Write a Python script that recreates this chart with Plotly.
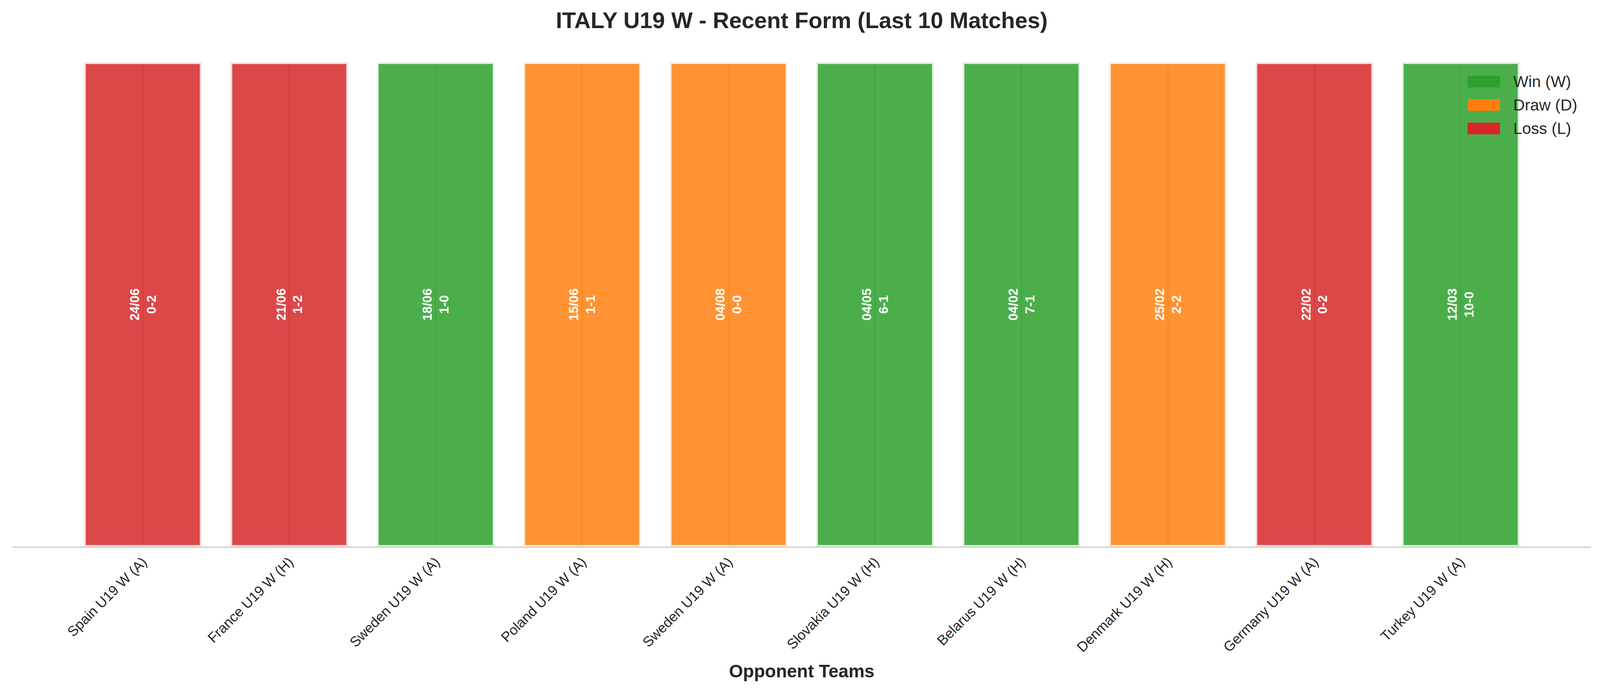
import plotly.graph_objects as go

# Last 10 matches, shown left to right as in the original chart
teams = ["Spain U19 W (A)", "France U19 W (H)", "Sweden U19 W (A)", "Poland U19 W (A)",
         "Sweden U19 W (A)", "Slovakia U19 W (H)", "Belarus U19 W (H)", "Denmark U19 W (H)",
         "Germany U19 W (A)", "Turkey U19 W (A)"]
results = ["L", "L", "W", "D", "D", "W", "W", "D", "L", "W"]
dates = ["24/06", "21/06", "18/06", "15/06", "04/08", "04/05", "04/02", "25/02", "22/02", "12/03"]
scores = ["0-2", "1-2", "1-0", "1-1", "0-0", "6-1", "7-1", "2-2", "0-2", "10-0"]
bar_height = [1] * len(teams)

legend_labels = ["Win (W)", "Draw (D)", "Loss (L)"]
legend_keys = ["W", "D", "L"]

W, H = 4170, 1770
L_M, R_M, T_M, B_M = 24, 105, 152, 378
FONT = "Liberation Sans, Arial, sans-serif"

base_colors = {"W": (44, 160, 44), "D": (255, 127, 14), "L": (214, 39, 40)}


def rgba(c, a):
    return f"rgba({c[0]},{c[1]},{c[2]},{a})"


def px_to_paper(x, y):
    """Convert pixel coords (from top-left of figure) to paper coords."""
    pw = W - L_M - R_M
    ph = H - T_M - B_M
    return (x - L_M) / pw, 1 - (y - T_M) / ph


fig = go.Figure()

fig.add_trace(go.Bar(
    x=list(range(len(teams))),
    y=bar_height,
    width=0.8,
    marker=dict(color=[rgba(base_colors[r], 0.85) for r in results],
                line=dict(color="rgba(255,255,255,0.8)", width=8)),
    text=[f"{d}<br>{s}" for d, s in zip(dates, scores)],
    textposition="inside",
    insidetextanchor="middle",
    textangle=-90,
    constraintext="none",
    textfont=dict(family=FONT, size=33, color="white", weight="bold"),
    showlegend=False,
    hoverinfo="skip",
))

# hand-drawn legend to get the wide matplotlib-style patches
shapes = []
annotations = []
for i, (lab, key) in enumerate(zip(legend_labels, legend_keys)):
    cy = 201 + i * 60
    x0, y0 = px_to_paper(3749, cy - 15)
    x1, y1 = px_to_paper(3832, cy + 15)
    shapes.append(dict(type="rect", xref="paper", yref="paper", x0=x0, x1=x1, y0=y1, y1=y0,
                       fillcolor=rgba(base_colors[key], 1), line=dict(width=0), layer="above"))
    tx, ty = px_to_paper(3864, cy)
    annotations.append(dict(text=lab, xref="paper", yref="paper", x=tx, y=ty,
                            xanchor="left", yanchor="middle", showarrow=False,
                            font=dict(family=FONT, size=41, color="#262626")))

fig.update_layout(
    width=W, height=H,
    margin=dict(l=L_M, r=R_M, t=T_M, b=B_M),
    paper_bgcolor="white", plot_bgcolor="white",
    title=dict(text="<b>ITALY U19 W - Recent Form (Last 10 Matches)</b>",
               x=0.5, xanchor="center", xref="paper",
               y=1 - 44 / H, yref="container", yanchor="middle",
               font=dict(family=FONT, size=58, color="#262626")),
    font=dict(family=FONT, color="#262626"),
    shapes=shapes,
    annotations=annotations,
)

fig.update_xaxes(
    range=[-0.89, 9.89],
    tickvals=list(range(len(teams))),
    ticktext=teams,
    tickangle=-45,
    tickfont=dict(family=FONT, size=36, color="#262626"),
    ticks="",
    ticklabelstandoff=1,
    showgrid=True, gridcolor="#cccccc", gridwidth=4,
    zeroline=False,
    showline=True, linecolor="#cccccc", linewidth=3,
    title=dict(text="<b>Opponent Teams</b>", standoff=26,
               font=dict(family=FONT, size=46, color="#262626")),
)
fig.update_yaxes(range=[0, 1], visible=False, showgrid=False)

fig.write_html("out.html")
